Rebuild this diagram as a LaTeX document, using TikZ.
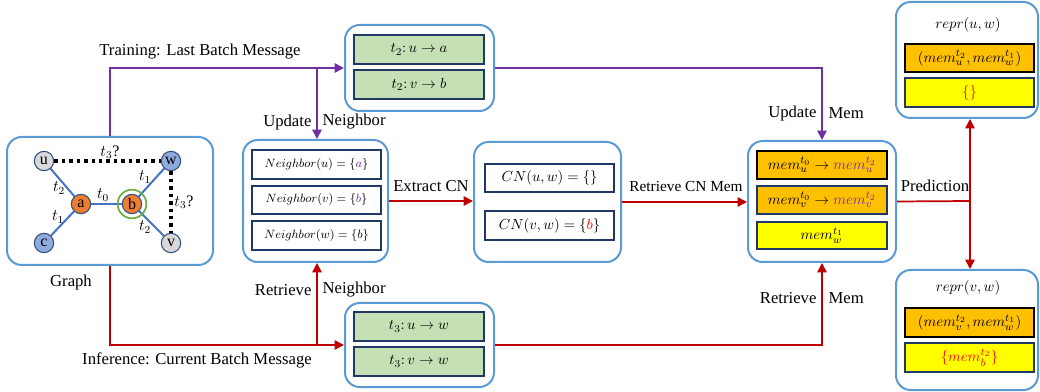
\documentclass[tikz,border=0pt]{standalone}
\usepackage{fontspec}
\setmainfont{Liberation Serif}
\usetikzlibrary{arrows.meta,fit}
\definecolor{boxblue}{HTML}{5B9BD5}
\definecolor{navy}{HTML}{1F3864}
\definecolor{msggreen}{HTML}{C5E0B4}
\definecolor{memorange}{HTML}{FFC000}
\definecolor{memyellow}{HTML}{FFFF00}
\definecolor{purp}{HTML}{7030A0}
\definecolor{darkred}{HTML}{C00000}
\definecolor{nodegray}{HTML}{D9D9D9}
\definecolor{nodeblue}{HTML}{8FAADC}
\definecolor{nodeorange}{HTML}{ED7D31}
\definecolor{edgeblue}{HTML}{4472C4}
\definecolor{ringgreen}{HTML}{70AD47}
\definecolor{nodeborder}{HTML}{2F4F7F}
\tikzset{
 outerbox/.style={draw=boxblue, line width=1.5pt, rounded corners=11pt, inner sep=0pt},
 inbox/.style={draw=navy, line width=1.1pt, inner sep=0pt},
 conn/.style={line width=1.3pt},
 arr/.style={-{Triangle[length=7pt,width=7pt]}},
 lbl/.style={font=\fontsize{12.5}{14}\selectfont, inner sep=1pt},
 gnode/.style={circle, draw=nodeborder, line width=0.8pt, minimum size=14.5pt, inner sep=0pt, font=\fontsize{12}{13}\selectfont},
 gedge/.style={draw=edgeblue, line width=1.5pt},
 gdot/.style={line width=2.6pt, dash pattern=on 2.6pt off 3pt},
 glab/.style={font=\fontsize{12}{13}\selectfont, inner sep=0pt},
 nbtxt/.style={font=\fontsize{9}{10}\selectfont},
 cntxt/.style={font=\fontsize{10.95}{12}\selectfont},
 memtxt/.style={font=\fontsize{10.95}{12}\selectfont},
 msgtxt/.style={font=\fontsize{10.95}{12}\selectfont},
 reprtxt/.style={font=\fontsize{10.95}{12}\selectfont},
}
\begin{document}
\begin{tikzpicture}[x=0.75pt,y=-0.75pt]
\useasboundingbox (0,0) rectangle (1040,392);
\fill[white] (0,0) rectangle (1040,392);

% ---------- outer boxes ----------
\node[outerbox, fit={(7,137) (213,265)}] (graph) {};
\node[outerbox, fit={(345,25) (494,111)}] (msgT) {};
\node[outerbox, fit={(345,303) (494,387)}] (msgB) {};
\node[outerbox, fit={(243,140) (388,262)}] (nbr) {};
\node[outerbox, fit={(474,142) (621,262)}] (cn) {};
\node[outerbox, fit={(748,141) (896,262)}] (mem) {};
\node[outerbox, fit={(896,2) (1038,118)}] (reprT) {};
\node[outerbox, fit={(896,270) (1038,390)}] (reprB) {};

% ---------- graph ----------
\node[gnode, fill=nodegray] (u) at (44,161) {u};
\node[gnode, fill=nodeblue] (w) at (171,161) {w};
\node[gnode, fill=nodeorange] (a) at (81,204) {a};
\node[gnode, fill=nodeorange] (b) at (132,204) {b};
\node[gnode, fill=nodeblue] (c) at (44,243) {c};
\node[gnode, fill=nodegray] (v) at (171,243) {v};
\draw[gedge] (u) -- (a);
\draw[gedge] (c) -- (a);
\draw[gedge] (a) -- (b);
\draw[gedge] (b) -- (w);
\draw[gedge] (b) -- (v);
\draw[gdot] (u) -- (w);
\draw[gdot] (w) -- (v);
\node[circle, draw=ringgreen, line width=1.3pt, minimum size=21.5pt, inner sep=0pt] (bring) at (b) {};
\node[glab] (l1) at (110,152) {$t_3$?};
\node[glab] (l2) at (59,188) {$t_2$};
\node[glab] (l3) at (58,217) {$t_1$};
\node[glab] (l4) at (103,195) {$t_0$};
\node[glab] (l5) at (145,177) {$t_1$};
\node[glab] (l6) at (145,227) {$t_2$};
\node[glab] (l7) at (184,202) {$t_3$?};
\node[lbl] (glbl) at (71,282) {Graph};

% ---------- message boxes ----------
\node[inbox, fill=msggreen, fit={(354,35) (484,64)}] (mt1) {};
\node[msgtxt] (mt1t) at (mt1) {$t_2{:}\,u\rightarrow a$};
\node[inbox, fill=msggreen, fit={(354,70) (484,99)}] (mt2) {};
\node[msgtxt] (mt2t) at (mt2) {$t_2{:}\,v\rightarrow b$};
\node[inbox, fill=msggreen, fit={(354,312) (484,341)}] (mb1) {};
\node[msgtxt] (mb1t) at (mb1) {$t_3{:}\,u\rightarrow w$};
\node[inbox, fill=msggreen, fit={(354,347) (484,376)}] (mb2) {};
\node[msgtxt] (mb2t) at (mb2) {$t_3{:}\,v\rightarrow w$};

% ---------- neighbor boxes ----------
\node[inbox, fill=white, fit={(252,150) (381,179)}] (n1) {};
\node[nbtxt] (n1t) at (n1) {$Neighbor(u)=\{\textcolor{purp}{a}\}$};
\node[inbox, fill=white, fit={(252,186) (381,214)}] (n2) {};
\node[nbtxt] (n2t) at (n2) {$Neighbor(v)=\{\textcolor{purp}{b}\}$};
\node[inbox, fill=white, fit={(252,221) (381,250)}] (n3) {};
\node[nbtxt] (n3t) at (n3) {$Neighbor(w)=\{b\}$};

% ---------- CN boxes ----------
\node[inbox, fill=white, fit={(485,164) (614,192)}] (c1) {};
\node[cntxt] (c1t) at (c1) {$CN(u,w)=\{\}$};
\node[inbox, fill=white, fit={(485,211) (614,240)}] (c2) {};
\node[cntxt] (c2t) at (c2) {$CN(v,w)=\{\textcolor{red}{b}\}$};

% ---------- memory boxes ----------
\node[inbox, draw=black, fill=memorange, fit={(757,151) (887,179)}] (e1) {};
\node[memtxt] (e1t) at (e1) {$mem_u^{t_0}\rightarrow \textcolor{purp}{mem_u^{t_2}}$};
\node[inbox, fill=memorange, fit={(757,186) (887,214)}] (e2) {};
\node[memtxt] (e2t) at (e2) {$mem_v^{t_0}\rightarrow \textcolor{purp}{mem_v^{t_2}}$};
\node[inbox, fill=memyellow, fit={(757,222) (887,249)}] (e3) {};
\node[memtxt] (e3t) at (e3) {$mem_w^{t_1}$};

% ---------- repr boxes ----------
\node[reprtxt] (rt) at (968,25) {$repr(u,w)$};
\node[inbox, draw=black, fill=memorange, fit={(905,44) (1034,72)}] (r1) {};
\node[reprtxt] (r1t) at (r1) {$(mem_u^{t_2},mem_w^{t_1})$};
\node[inbox, fill=memyellow, fit={(905,78) (1034,107)}] (r2) {};
\node[reprtxt] (r2t) at (r2) {\textcolor{red}{$\{\}$}};
\node[reprtxt] (rb) at (968,288) {$repr(v,w)$};
\node[inbox, draw=black, fill=memorange, fit={(905,308) (1034,337)}] (r3) {};
\node[reprtxt] (r3t) at (r3) {$(mem_v^{t_2},mem_w^{t_1})$};
\node[inbox, fill=memyellow, fit={(905,343) (1034,372)}] (r4) {};
\node[reprtxt] (r4t) at (r4) {\textcolor{red}{$\{mem_b^{t_2}\}$}};

% ---------- connectors ----------
\coordinate (pb) at (317,68);
\coordinate (rbr) at (317,345);
\coordinate (pc) at (970,201);
\draw[conn, purp, arr] (graph.north) |- (msgT.west);
\draw[conn, purp, arr] (pb) -- (pb |- nbr.north);
\draw[conn, purp, arr] (msgT.east) -| (mem.north);
\draw[conn, darkred, arr] (graph.south) |- (msgB.west);
\draw[conn, darkred, arr] (rbr) -- (rbr |- nbr.south);
\draw[conn, darkred, arr] (msgB.east) -| (mem.south);
\draw[conn, darkred, arr] (nbr.east) -- (nbr.east -| cn.west);
\draw[conn, darkred, arr] (cn.east) -- (cn.east -| mem.west);
\draw[conn, darkred] (mem.east) -- (pc);
\draw[conn, darkred, arr] (pc) -- (pc |- reprT.south);
\draw[conn, darkred, arr] (pc) -- (pc |- reprB.north);

% ---------- connector labels ----------
\node[lbl] (tl) at (200,52) {Training: Last Batch Message};
\node[lbl] (il) at (197,360) {Inference: Current Batch Message};
\node[lbl, anchor=east] (un1) at (313,122) {Update};
\node[lbl, anchor=west] (un2) at (321,122) {Neighbor};
\node[lbl, anchor=east] (rn1) at (313,290) {Retrieve};
\node[lbl, anchor=west] (rn2) at (321,290) {Neighbor};
\node[lbl, anchor=east] (um1) at (818,113) {Update};
\node[lbl, anchor=west] (um2) at (827,113) {Mem};
\node[lbl, anchor=east] (rm1) at (818,298) {Retrieve};
\node[lbl, anchor=west] (rm2) at (827,298) {Mem};
\node[lbl] (ecn) at (431,186) {Extract CN};
\node[lbl, font=\fontsize{11.5}{13}\selectfont] (rcn) at (686,186) {Retrieve CN Mem};
\node[lbl] (pred) at (935,186) {Prediction};
\end{tikzpicture}
\end{document}
